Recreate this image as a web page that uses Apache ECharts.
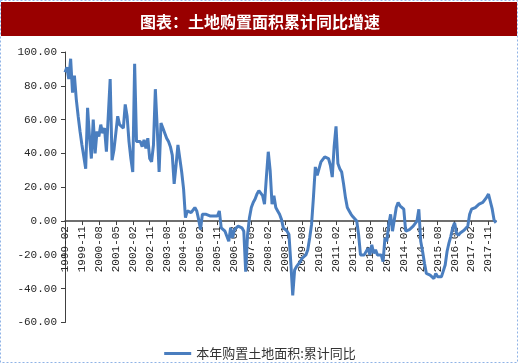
<!DOCTYPE html>
<html>
<head>
<meta charset="utf-8">
<script src="https://cdn.jsdelivr.net/npm/echarts@6/dist/echarts.min.js"></script>
<style>
html,body{margin:0;padding:0;background:#fff;}
#chart{width:520px;height:364px;}
</style>
</head>
<body>
<div id="chart"></div>
<script>
// Month labels from 1999-02 to 2018-03
var startYear = 1999, startMonth = 2, pointCount = 230;
var months = [];
for (var k = 0; k < pointCount; k++) {
  var m = startMonth - 1 + k;
  var y = startYear + Math.floor(m / 12);
  var mm = (m % 12) + 1;
  months.push(y + '-' + (mm < 10 ? '0' + mm : '' + mm));
}

var seriesName = '本年购置土地面积:累计同比';
var titleText = '图表：土地购置面积累计同比增速';

// 累计同比 (%)
var values = [
  88, 91, 84, 96, 76, 86, 72, 62, 53, 45,
  38, 31, 67, 50, 37, 60, 40, 53, 50, 57,
  52, 55, 41, 41, 84, 36, 42, 52, 62, 57,
  57, 55, 69, 62, 47, 37, 29, 93, 47, 48,
  47, 44, 48, 43, 49, 37, 35, 45, 78, 55,
  29, 58, 55, 56, 49, 47, 44, 39, 22, 33,
  45, 37, 29, 19, 2, 6, 5, 5, 6, 8,
  6, 1, -5, 4, 3, 4, 4, 3, 3.5, 3,
  3, 3, 6, -4, -5, -6, -6.5, -12, -4, -10,
  -5, -4, -3, -3, -4, -6, -30, -8, 2, 8,
  11, 13, 16, 18, 17, 15, 10, 26, 41, 30,
  10, 15, 8, 6, 4, 1, -4, -5, -6, -8,
  -25, -44, -29, -27, -26, -24, -22, -21, -20, -17,
  -10, -2, 14, 32, 27, 31, 35, 34, 38, 37,
  37, 33, 26, 44, 56, 34, 31, 29, 22, 14,
  8, 6, 4, 2.5, 2, 0, -8, -20, -20, -20,
  -20, -16, -20, -14, -19, -17, -20, -19, -20, -24,
  -10, -12, -2, 4, -6, -6, 8, 11, 9, 8,
  7, -6, -6, -5, -4, -3, -2, 0, 7, -12,
  -18, -25, -31, -32, -32, -32, -34, -31, -33, -34,
  -33, -32, -26, -18, -13, -9, -4, -1, -7, -8.5,
  -7, -6, -5.5, -4.5, -3, 4, 7, 6, 8, 7,
  10, 9, 11, 12, 14, 16, 15, 7, 0.5, -1
];

var yMin = -60, yMax = 100, yStep = 20;

var gridTop = 52, gridBottom = 41.5, chartH = 364;
var plotH = chartH - gridTop - gridBottom;
var zeroY = gridTop + plotH * yMax / (yMax - yMin);
var zeroOffset = -((chartH - gridBottom) - zeroY);

var chart = echarts.init(document.getElementById('chart'), null, {renderer: 'canvas'});
chart.setOption({
  animation: false,
  backgroundColor: '#fff',
  graphic: [
    {type: 'rect', z: -10, shape: {x: 1, y: 2, width: 516, height: 34}, style: {fill: '#990000'}},
    {type: 'rect', z: -9, shape: {x: 0.5, y: 0.5, width: 517, height: 362}, style: {fill: null, stroke: '#8fb3e6', lineWidth: 1, lineDash: [2, 2]}}
  ],
  title: {
    text: titleText,
    left: 'center',
    top: 9,
    textStyle: {color: '#fff', fontSize: 16, fontWeight: 'bold', fontFamily: 'Noto Sans CJK SC'}
  },
  legend: {
    data: [seriesName],
    left: 'center',
    top: 342,
    icon: 'rect',
    itemWidth: 27,
    itemHeight: 3,
    itemGap: 5,
    textStyle: {color: '#333', fontSize: 13, fontFamily: 'Noto Sans CJK SC'}
  },
  grid: {left: 65, right: 24, top: gridTop, bottom: gridBottom, containLabel: false, outerBoundsMode: 'none'},
  xAxis: [{
    type: 'category',
    data: months,
    boundaryGap: false,
    axisLine: {onZero: true, lineStyle: {color: '#404040', width: 1.5}},
    axisTick: {show: false},
    axisLabel: {show: false},
    splitLine: {show: false}
  }, {
    type: 'category',
    data: months,
    position: 'bottom',
    offset: zeroOffset,
    boundaryGap: false,
    axisLine: {show: false, onZero: false},
    axisTick: {show: true, interval: 8, inside: false, length: 4, lineStyle: {color: '#404040'}},
    axisLabel: {interval: 8, rotate: 90, margin: 5, color: '#262626', fontSize: 11, fontFamily: 'Liberation Mono'},
    splitLine: {show: false}
  }],
  yAxis: {
    type: 'value',
    min: yMin,
    max: yMax,
    interval: yStep,
    axisLine: {show: true, lineStyle: {color: '#404040', width: 1}},
    axisTick: {show: true, length: 4, lineStyle: {color: '#404040'}},
    axisLabel: {margin: 8, color: '#262626', fontSize: 11, fontFamily: 'Liberation Mono',
      formatter: function (v) { return v.toFixed(2); }},
    splitLine: {show: false}
  },
  series: [{
    name: seriesName,
    type: 'line',
    xAxisIndex: 0,
    data: values,
    showSymbol: false,
    symbol: 'none',
    lineStyle: {color: '#4a7ebf', width: 3},
    itemStyle: {color: '#4a7ebf'}
  }]
});
</script>
</body>
</html>
